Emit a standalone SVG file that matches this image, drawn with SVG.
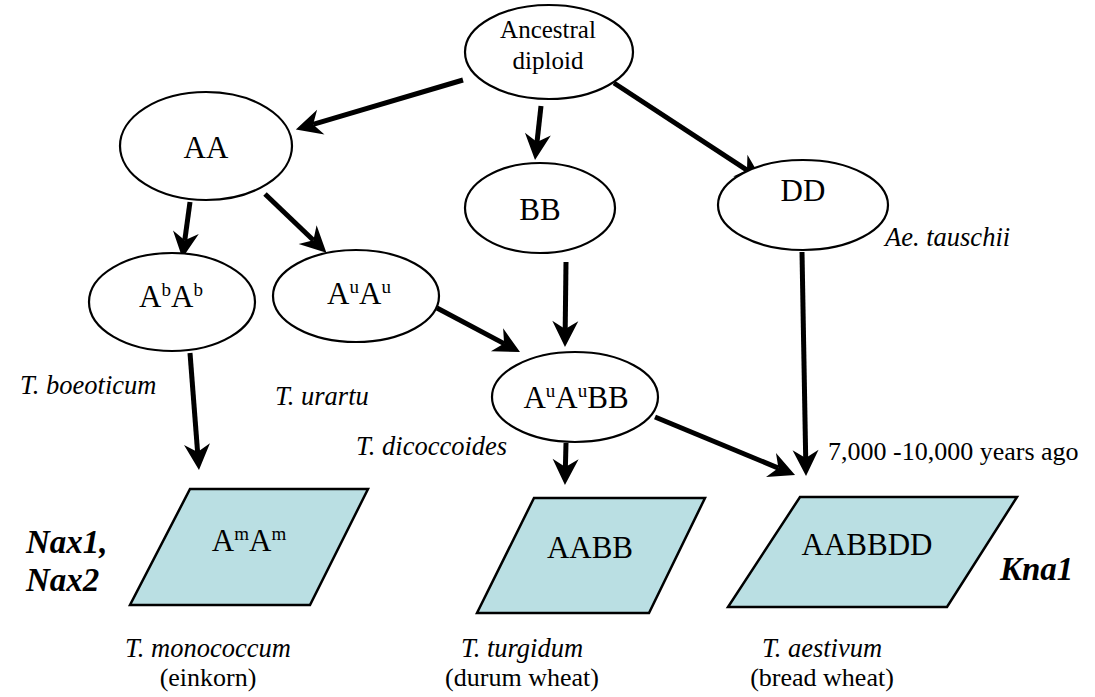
<svg xmlns="http://www.w3.org/2000/svg" width="1095" height="697" viewBox="0 0 1095 697">
<style>
text{font-family:'Liberation Serif','Times New Roman',serif;fill:#000}
.el{fill:#fff;stroke:#000;stroke-width:2.2}
.pg{fill:#badfe3;stroke:#000;stroke-width:2.5}
.g{font-size:31px;text-anchor:middle}
.anc{font-size:25px;text-anchor:middle}
.lab{font-size:26.5px;font-style:italic}
.reg{font-size:26px}
.mid{text-anchor:middle}
.gene{font-size:33px;font-style:italic;font-weight:bold}
.ar{stroke:#000;stroke-width:5;fill:none;marker-end:url(#ah)}
.sup{font-size:19px}
</style>
<defs>
<marker id="ah" viewBox="-28 -14 30 28" refX="-18" refY="0" markerWidth="30" markerHeight="28" markerUnits="userSpaceOnUse" orient="auto">
<path d="M0,0 L-26,-13 L-18,0 L-26,13 Z" fill="#000"/>
</marker>
</defs>

<g id="connectors">
<line class="ar" x1="463" y1="80" x2="313.1" y2="124.4"/>
<line class="ar" x1="541" y1="106" x2="537" y2="142.1"/>
<line class="ar" x1="614" y1="83" x2="747" y2="170.1"/>
<line class="ar" x1="190" y1="202" x2="184.8" y2="240.2"/>
<line class="ar" x1="265" y1="194" x2="313.4" y2="240.2"/>
<line class="ar" x1="437" y1="308" x2="504.1" y2="343.6"/>
<line class="ar" x1="566" y1="262" x2="565.2" y2="329"/>
<line class="ar" x1="190" y1="353" x2="197.6" y2="452.1"/>
<line class="ar" x1="566" y1="443" x2="565.4" y2="467"/>
<line class="ar" x1="655" y1="417" x2="778.4" y2="468.1"/>
<line class="ar" x1="802" y1="252" x2="805.7" y2="458"/>
</g>

<g id="ancestral">
<ellipse class="el" cx="549" cy="52" rx="84" ry="47"/>
<text class="anc" x="548" y="38">Ancestral</text>
<text class="anc" x="548" y="69">diploid</text>
</g>
<g id="AA">
<ellipse class="el" cx="206" cy="146" rx="86" ry="54"/>
<text class="g" x="206" y="158">AA</text>
</g>
<g id="BB">
<ellipse class="el" cx="540" cy="208" rx="75" ry="45"/>
<text class="g" x="540" y="220">BB</text>
</g>
<g id="DD">
<ellipse class="el" cx="803" cy="205" rx="85" ry="45"/>
<text class="g" x="803" y="201">DD</text>
</g>
<g id="AbAb">
<ellipse class="el" cx="172" cy="302" rx="83" ry="49"/>
<text class="g" x="171" y="307">A<tspan class="sup" dy="-11">b</tspan><tspan dy="11">A</tspan><tspan class="sup" dy="-11">b</tspan></text>
</g>
<g id="AuAu">
<ellipse class="el" cx="356" cy="296" rx="83" ry="46"/>
<text class="g" x="359" y="304">A<tspan class="sup" dy="-11">u</tspan><tspan dy="11">A</tspan><tspan class="sup" dy="-11">u</tspan></text>
</g>
<g id="AuAuBB">
<ellipse class="el" cx="575" cy="397" rx="83" ry="45"/>
<text class="g" x="576" y="408">A<tspan class="sup" dy="-11">u</tspan><tspan dy="11">A</tspan><tspan class="sup" dy="-11">u</tspan><tspan dy="11">BB</tspan></text>
</g>
<g id="AmAm">
<polygon class="pg" points="190,489 368,489 310,605 130,605"/>
<text class="g" x="249" y="551">A<tspan class="sup" dy="-11">m</tspan><tspan dy="11">A</tspan><tspan class="sup" dy="-11">m</tspan></text>
</g>
<g id="AABB">
<polygon class="pg" points="534,498 705,498 649,613 477,613"/>
<text class="g" x="590" y="558">AABB</text>
</g>
<g id="AABBDD">
<polygon class="pg" points="800,497 1017,497 947,607 728,607"/>
<text class="g" x="867" y="555">AABBDD</text>
</g>

<g id="labels">
<text class="lab" x="20" y="394">T. boeoticum</text>
<text class="lab" x="275" y="405">T. urartu</text>
<text class="lab" x="356" y="455">T. dicoccoides</text>
<text class="lab" x="885" y="246">Ae. tauschii</text>
<text class="reg" x="828" y="460">7,000 -10,000 years ago</text>
<text class="gene" x="26" y="553">Nax1,</text>
<text class="gene" x="26" y="591">Nax2</text>
<text class="gene" x="1000" y="580">Kna1</text>
<text class="lab mid" x="208" y="657">T. monococcum</text>
<text class="reg mid" x="208" y="686">(einkorn)</text>
<text class="lab mid" x="522" y="657">T. turgidum</text>
<text class="reg mid" x="522" y="686">(durum wheat)</text>
<text class="lab mid" x="822" y="657">T. aestivum</text>
<text class="reg mid" x="822" y="686">(bread wheat)</text>
</g>
</svg>
